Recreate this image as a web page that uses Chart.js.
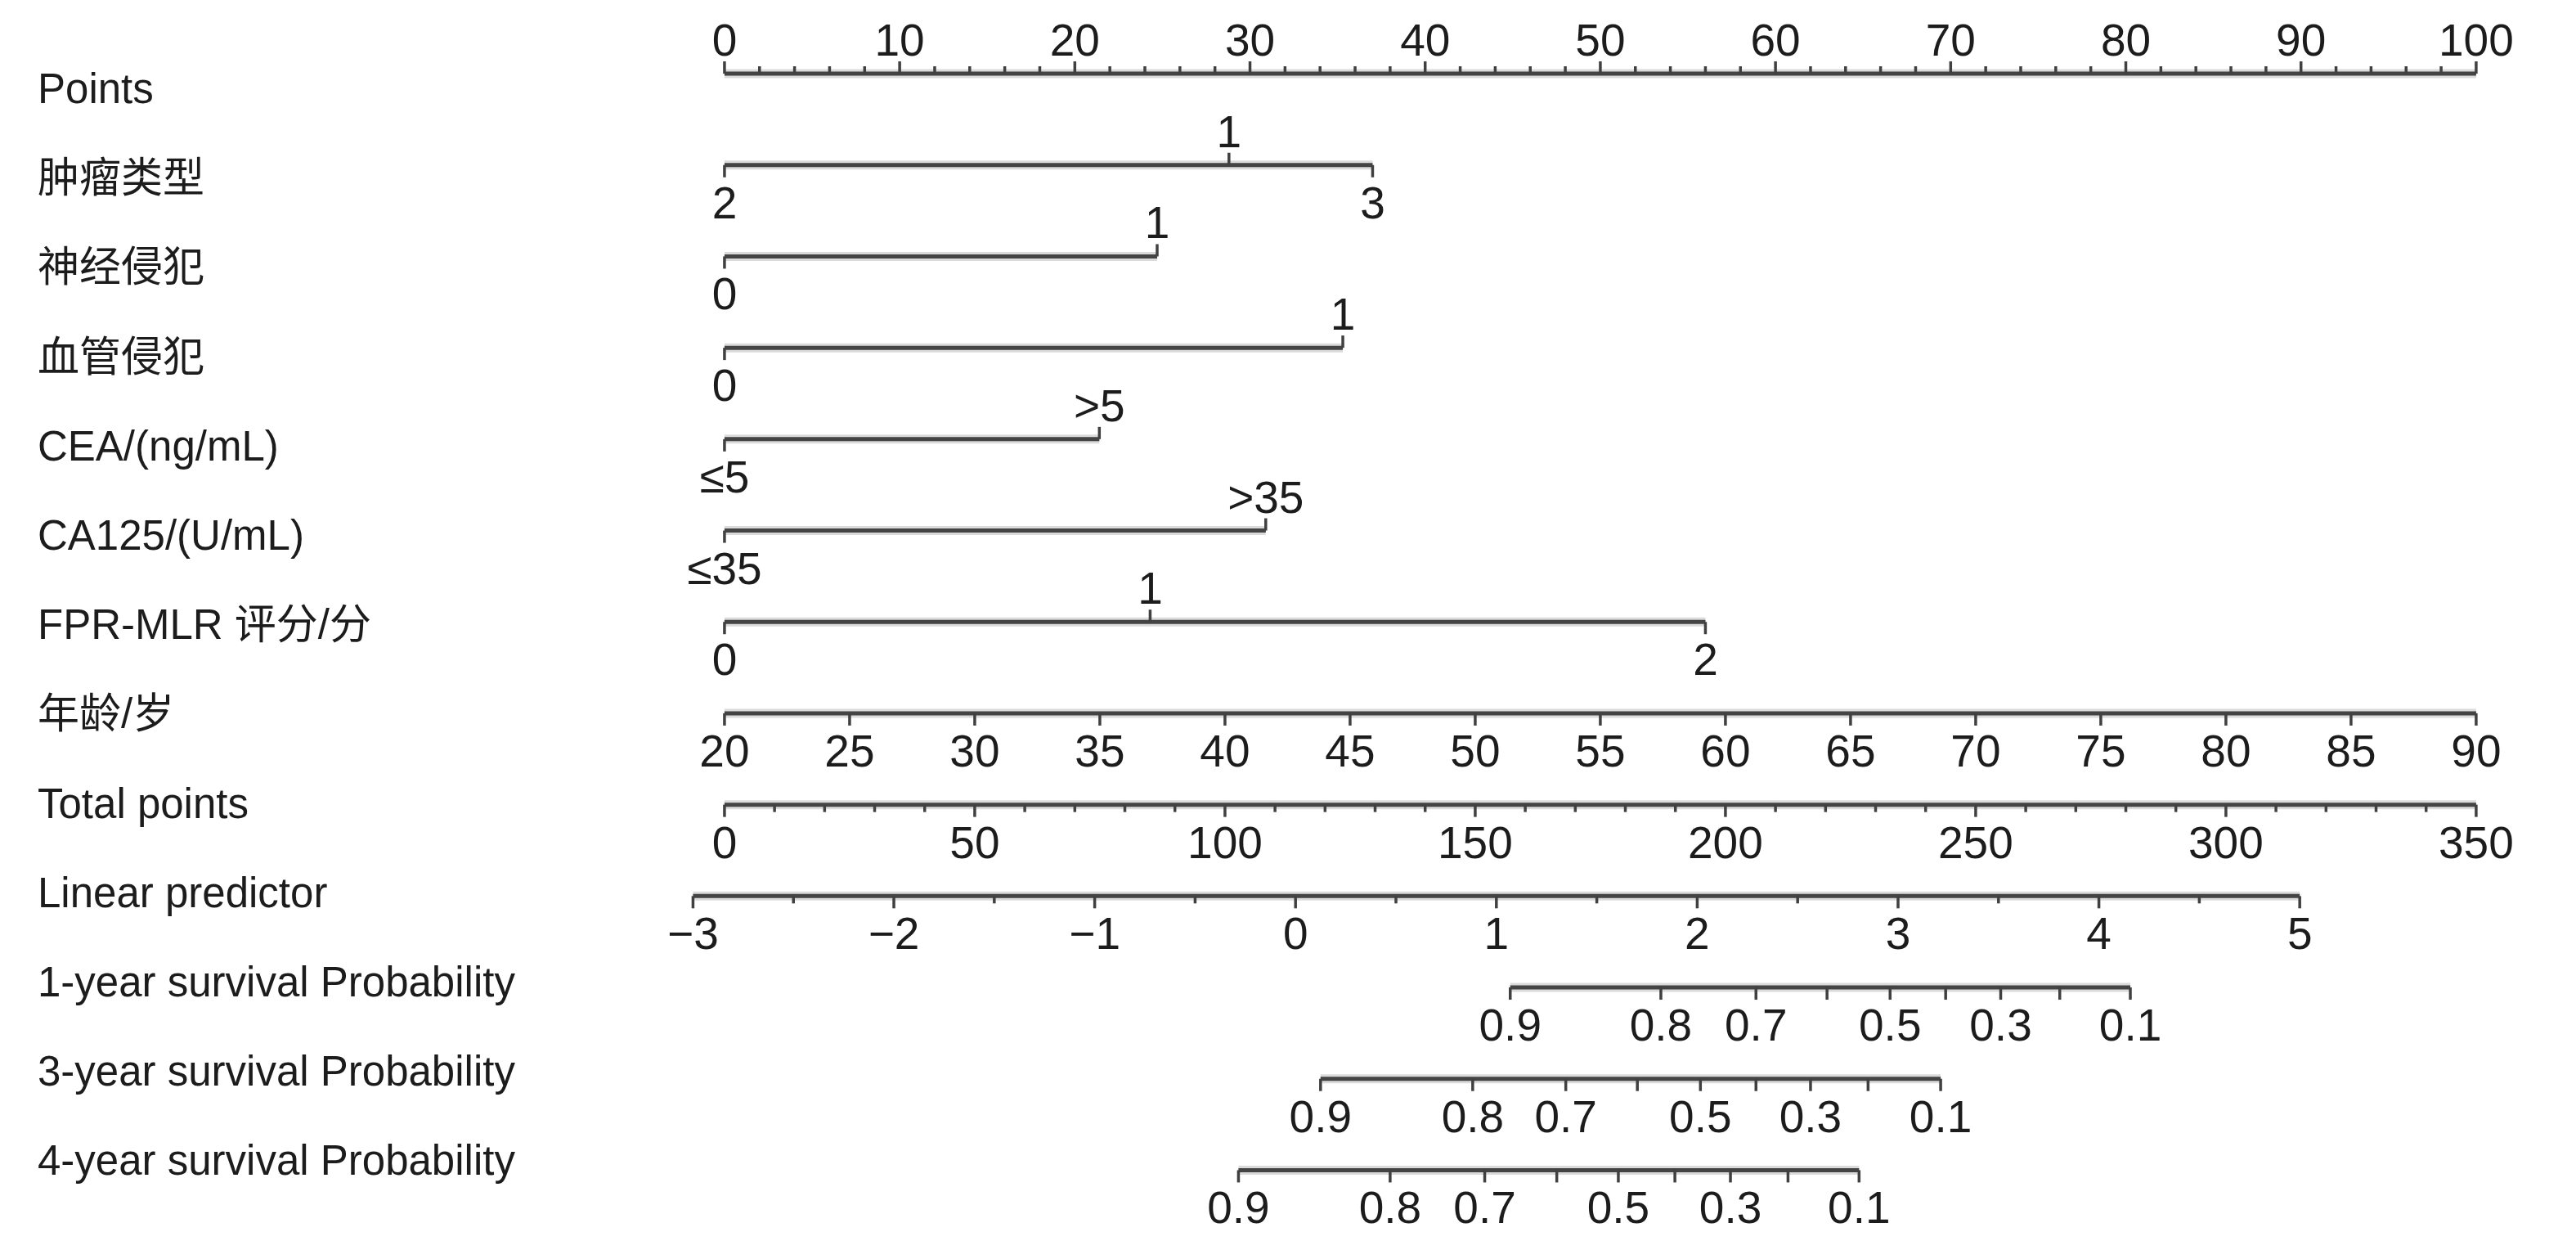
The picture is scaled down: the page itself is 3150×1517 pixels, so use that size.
<!DOCTYPE html>
<html>
<head>
<meta charset="utf-8">
<script src="https://cdn.jsdelivr.net/npm/chart.js@4.4.1/dist/chart.umd.min.js"></script>
<style>
    html, body { margin: 0; padding: 0; background: #fff; }
    #nomogram { display: block; }
</style>
</head>
<body>
<canvas id="nomogram" width="3150" height="1517"></canvas>
<script>
// Row names (top to bottom)
const rowNames = [
    'Points', '肿瘤类型', '神经侵犯', '血管侵犯', 'CEA/(ng/mL)', 'CA125/(U/mL)',
    'FPR-MLR 评分/分', '年龄/岁', 'Total points', 'Linear predictor',
    '1-year survival Probability', '3-year survival Probability', '4-year survival Probability'
];

// Points scale
const pointsMajor = [0, 10, 20, 30, 40, 50, 60, 70, 80, 90, 100];
const pointsMinorStep = 2;

// Categorical predictors: level labels and their points
const tumorLevels = ['2', '1', '3'];
const tumorPoints = [0, 28.8, 37.0];
const nerveLevels = ['0', '1'];
const nervePoints = [0, 24.7];
const vesselLevels = ['0', '1'];
const vesselPoints = [0, 35.3];
const ceaLevels = ['≤5', '>5'];
const ceaPoints = [0, 21.4];
const ca125Levels = ['≤35', '>35'];
const ca125Points = [0, 30.9];
const fprLevels = ['0', '1', '2'];
const fprPoints = [0, 24.3, 56.0];

// Age (continuous, 20 -> 0 points, 90 -> 100 points)
const ageTicks = [20, 25, 30, 35, 40, 45, 50, 55, 60, 65, 70, 75, 80, 85, 90];
const ageRange = [20, 90];

// Total points
const totalMajor = [0, 50, 100, 150, 200, 250, 300, 350];
const totalMinorStep = 10;
const totalMax = 350;

// Linear predictor (placed on the total points scale)
const lpMajor = [-3, -2, -1, 0, 1, 2, 3, 4, 5];
const lpMinorStep = 0.5;
const lpZeroTotal = 114.1;
const lpUnitTotal = 40.13;

// Survival probabilities: tick values and where each sits on total points
const survTicks = ['0.9', '0.8', '0.7', '0.6', '0.5', '0.4', '0.3', '0.2', '0.1'];
const survShown = ['0.9', '0.8', '0.7', '0.5', '0.3', '0.1'];
const surv1yTotal = [157.0, 187.1, 206.1, 220.3, 232.9, 244.0, 255.0, 266.8, 280.9];
const surv3yTotal = [119.1, 149.5, 168.1, 182.4, 195.0, 206.1, 217.0, 228.5, 243.0];
const surv4yTotal = [102.7, 133.0, 151.9, 166.3, 178.6, 189.9, 201.0, 212.5, 226.7];

// Conversions to the Points scale
const ageToPoints = a => (a - ageRange[0]) / (ageRange[1] - ageRange[0]) * 100;
const totalToPoints = t => t / totalMax * 100;
const lpToPoints = v => totalToPoints(lpZeroTotal + v * lpUnitTotal);

// Helpers that build tick lists
function stepTicks(from, to, step, majors, toPoints, up, fmt) {
    const out = [];
    const n = Math.round((to - from) / step);
    for (let k = 0; k <= n; k++) {
        const v = +(from + k * step).toFixed(4);
        const major = majors.includes(v);
        out.push({ p: toPoints(v), label: major ? fmt(v) : '', up: up, major: major });
    }
    return out;
}

function levelTicks(levels, points) {
    // labels alternate below / above along the axis
    const order = points.map((p, i) => i).sort((a, b) => points[a] - points[b]);
    return order.map((idx, k) => ({ p: points[idx], label: levels[idx], up: k % 2 === 1, major: true }));
}

function survAxis(totals) {
    return survTicks.map((s, i) => ({
        p: totalToPoints(totals[i]),
        label: survShown.includes(s) ? s : '',
        up: false,
        major: true
    }));
}

const minus = v => (v < 0 ? '\u2212' + Math.abs(v) : String(v));

const axes = [
    stepTicks(0, 100, pointsMinorStep, pointsMajor, v => v, true, String),
    levelTicks(tumorLevels, tumorPoints),
    levelTicks(nerveLevels, nervePoints),
    levelTicks(vesselLevels, vesselPoints),
    levelTicks(ceaLevels, ceaPoints),
    levelTicks(ca125Levels, ca125Points),
    levelTicks(fprLevels, fprPoints),
    ageTicks.map(a => ({ p: ageToPoints(a), label: String(a), up: false, major: true })),
    stepTicks(0, totalMax, totalMinorStep, totalMajor, totalToPoints, false, String),
    stepTicks(-3, 5, lpMinorStep, lpMajor, lpToPoints, false, minus),
    survAxis(surv1yTotal),
    survAxis(surv3yTotal),
    survAxis(surv4yTotal)
];

// Each row is a line spanning its ticks; a soft wide copy sits under it
function rowLine(ticks, i, color, width) {
    const ps = ticks.map(t => t.p);
    return {
        label: rowNames[i],
        data: [{ x: Math.min(...ps), y: i }, { x: Math.max(...ps), y: i }],
        borderColor: color,
        borderWidth: width,
        pointRadius: 0,
        showLine: true,
        borderCapStyle: 'butt'
    };
}
const datasets = [
    ...axes.map((ticks, i) => rowLine(ticks, i, 'rgba(90,90,90,0.22)', 11)),
    ...axes.map((ticks, i) => rowLine(ticks, i, '#3e3e3e', 5))
];

const TEXT = '#1c1c1c';
const FONT = '"Liberation Sans", Arial, "Noto Sans CJK SC", sans-serif';

// Draw ticks, tick labels and row names
const nomogramPlugin = {
    id: 'nomogram',
    afterDatasetsDraw(chart) {
        const { ctx, scales: { x, y, yLab } } = chart;
        ctx.save();
        ctx.strokeStyle = '#404040';
        ctx.lineWidth = 3.5;
        ctx.fillStyle = TEXT;
        ctx.font = '55px ' + FONT;
        ctx.textAlign = 'center';
        ctx.textBaseline = 'alphabetic';

        axes.forEach((ticks, i) => {
            const py = y.getPixelForValue(i);
            ticks.forEach(t => {
                const px = x.getPixelForValue(t.p);
                const len = t.major ? 15 : 9;
                ctx.beginPath();
                ctx.moveTo(px, py);
                ctx.lineTo(px, t.up ? py - len : py + len);
                ctx.stroke();
                if (t.label) {
                    ctx.fillText(t.label, px, t.up ? py - 22 : py + 65);
                }
            });
        });

        ctx.font = '51px ' + FONT;
        ctx.textAlign = 'left';
        rowNames.forEach((name, i) => {
            ctx.fillText(name, 46, yLab.getPixelForValue(i) + 18);
        });
        ctx.restore();
    }
};

new Chart(document.getElementById('nomogram').getContext('2d'), {
    type: 'scatter',
    data: { datasets: datasets },
    options: {
        responsive: false,
        animation: false,
        devicePixelRatio: 1,
        layout: { padding: 0 },
        plugins: { legend: { display: false }, tooltip: { enabled: false } },
        scales: {
            x: { type: 'linear', min: -41.36, max: 105.70, display: false },
            y: { type: 'linear', min: -0.806, max: 12.775, reverse: true, display: false },
            yLab: { type: 'linear', min: -0.989, max: 12.903, reverse: true, display: false }
        }
    },
    plugins: [nomogramPlugin]
});
</script>
</body>
</html>
